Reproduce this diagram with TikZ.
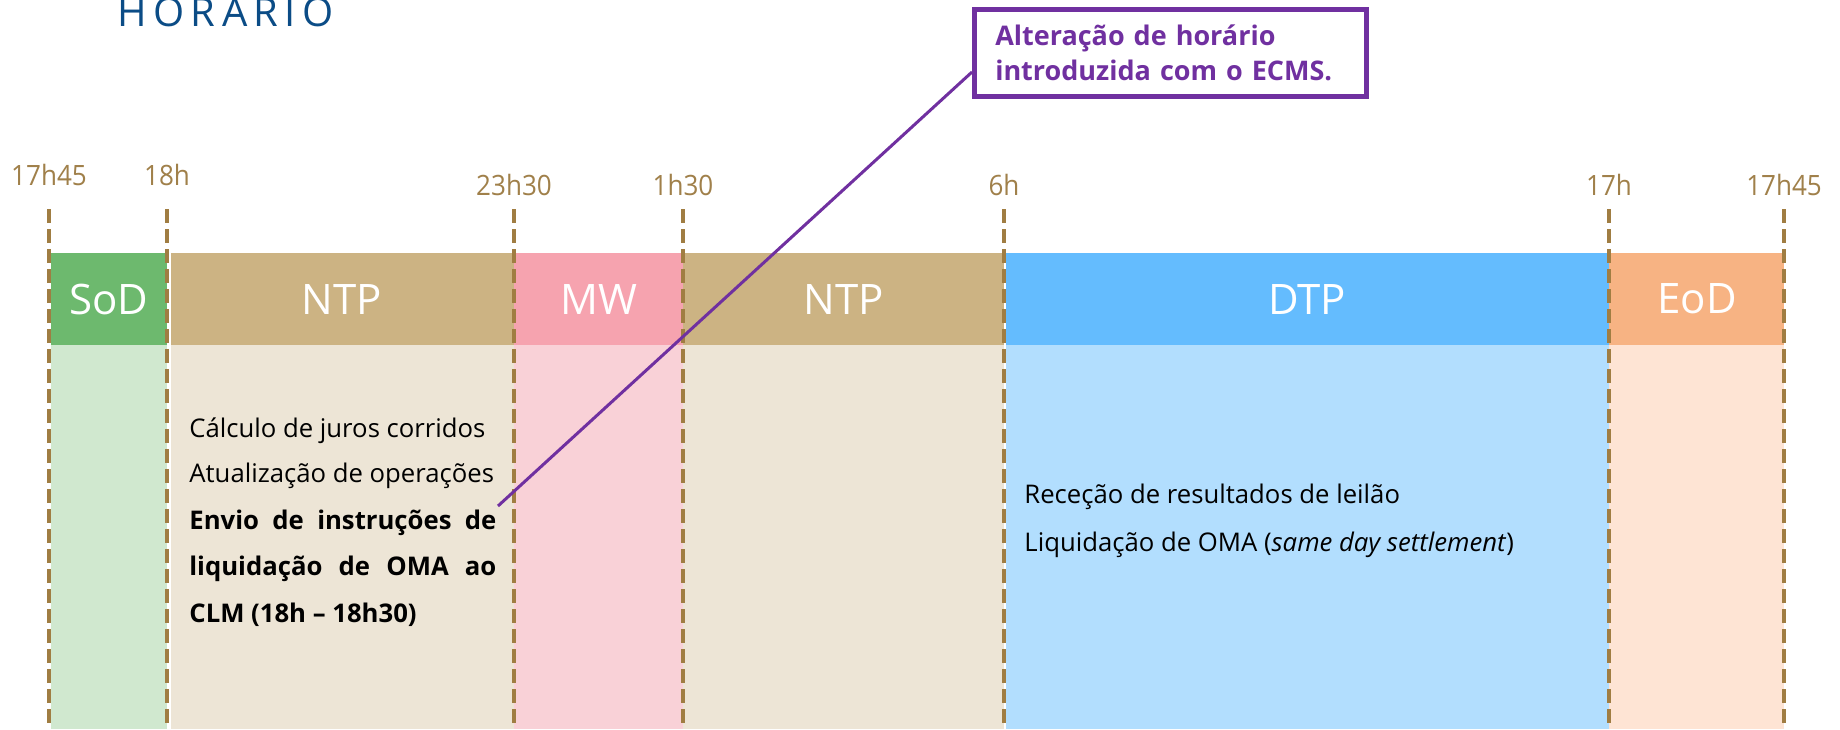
\documentclass[tikz,border=0pt]{standalone}
\usepackage{fontspec}
\setmainfont{Open Sans}
\newfontfamily\titlefont[LetterSpace=16]{Open Sans}
\usetikzlibrary{calc}
\definecolor{gold}{HTML}{A07D42}
\definecolor{goldtxt}{HTML}{A0804A}
\definecolor{sodH}{HTML}{6DB96E}
\definecolor{sodL}{HTML}{D0E8CF}
\definecolor{ntpH}{HTML}{CCB383}
\definecolor{ntpL}{HTML}{EDE5D6}
\definecolor{mwH}{HTML}{F6A3AF}
\definecolor{mwL}{HTML}{F9D1D7}
\definecolor{dtpH}{HTML}{64BCFE}
\definecolor{dtpL}{HTML}{B2DEFE}
\definecolor{eodH}{HTML}{F7B383}
\definecolor{eodL}{HTML}{FEE4D4}
\definecolor{purp}{HTML}{7030A0}
\definecolor{titleblue}{HTML}{0B4C86}
\tikzset{
  tickline/.style={draw=gold, line width=2.25pt, dash pattern=on 7pt off 3pt},
  timelbl/.style={text=goldtxt, inner sep=0pt, font=\fontsize{14}{16}\selectfont, xscale=0.93},
  phase/.style={text=white, inner sep=0pt, font=\fontsize{21}{24}\selectfont},
  body/.style={anchor=base west, inner sep=0pt, font=\fontsize{12.85}{15}\selectfont, text=black},
  callbox/.style={draw=purp, line width=2.25pt, fill=white, text=purp, anchor=north west,
    minimum width=196pt, minimum height=43.5pt, inner xsep=10.5pt, inner ysep=0pt,
    text width=175pt, align=left, font=\fontsize{13.5}{17.5}\selectfont\bfseries},
  connector/.style={draw=purp, line width=1.5pt}
}
\begin{document}
\begin{tikzpicture}[x=0.5pt,y=-0.5pt]
\clip (0,0) rectangle (1840,729);
\fill[white] (0,0) rectangle (1840,729);
% title
\node[anchor=base west, inner sep=0pt, text=titleblue, font=\titlefont\fontsize{20}{22}\selectfont] (title) at (117,26) {HORÁRIO};
% header bands
\fill[sodH] (51,253) rectangle (167,345);
\fill[ntpH] (171,253) rectangle (514,345);
\fill[mwH] (514,253) rectangle (683,345);
\fill[ntpH] (683,253) rectangle (1004,345);
\fill[dtpH] (1006,253) rectangle (1609,345);
\fill[eodH] (1609,253) rectangle (1784,345);
% lower bands
\fill[sodL] (51,345) rectangle (167,729);
\fill[ntpL] (171,345) rectangle (514,729);
\fill[mwL] (514,345) rectangle (683,729);
\fill[ntpL] (683,345) rectangle (1004,729);
\fill[dtpL] (1006,345) rectangle (1609,729);
\fill[eodL] (1609,345) rectangle (1784,729);
% dashed time lines
\foreach \x in {49,167,514,683,1004,1609,1784}{
  \draw[tickline] (\x,209) -- (\x,729);
}
% time labels
\node[timelbl] (t1) at (49,175) {17h45};
\node[timelbl] (t2) at (167,175) {18h};
\node[timelbl] (t3) at (514,185) {23h30};
\node[timelbl] (t4) at (683,185) {1h30};
\node[timelbl] (t5) at (1004,185) {6h};
\node[timelbl] (t6) at (1609,185) {17h};
\node[timelbl] (t7) at (1784,185) {17h45};
% phase labels
\node[phase] (sod) at (109,299) {SoD};
\node[phase] (ntp1) at (342,299) {NTP};
\node[phase] (mw) at (599,299) {MW};
\node[phase] (ntp2) at (844,299) {NTP};
\node[phase] (dtp) at (1307,299) {DTP};
\node[phase] (eod) at (1697,299) {EoD};
% NTP body text
\node[body] (n1) at (189,437) {Cálculo de juros corridos};
\node[body] (n2) at (189,482) {Atualização de operações};
\node[body] (n3) at (189,529) {\bfseries\makebox[153.5pt][s]{Envio de instruções de}};
\node[body] (n4) at (189,575) {\bfseries\makebox[153.5pt][s]{liquidação de OMA ao}};
\node[body] (n5) at (189,622) {\bfseries CLM (18h – 18h30)};
% DTP body text
\node[body] (d1) at (1024,503) {Receção de resultados de leilão};
\node[body] (d2) at (1024,551) {Liquidação de OMA (\textit{same day settlement})};
% callout
\node[callbox] (callout) at (972,7) {\mbox{Alteração de horário}\\\mbox{introduzida com o ECMS.}};
\coordinate (cstart) at (972,72);
\coordinate (cend) at (498,506);
\draw[connector] (cstart) -- (cend);
\end{tikzpicture}
\end{document}
